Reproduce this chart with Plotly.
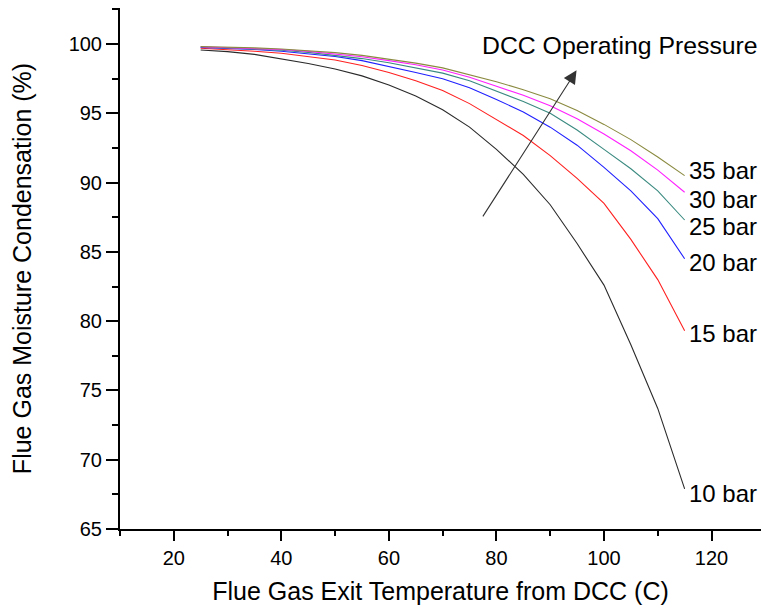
import plotly.graph_objects as go

temps = [25, 30, 35, 40, 45, 50, 55, 60, 65, 70, 75, 80, 85, 90, 95, 100, 105, 110, 115]

cond_10bar = [99.57, 99.45, 99.25, 98.95, 98.6, 98.2, 97.7, 97.05, 96.25, 95.25, 94.0, 92.4, 90.6, 88.4, 85.6, 82.6, 78.3, 73.7, 67.9]
cond_15bar = [99.7, 99.6, 99.48, 99.33, 99.1, 98.85, 98.45, 97.95, 97.35, 96.65, 95.7, 94.55, 93.4, 91.95, 90.3, 88.5, 85.9, 83.0, 79.3]
cond_20bar = [99.75, 99.68, 99.6, 99.48, 99.3, 99.1, 98.8, 98.4, 97.95, 97.5, 96.85, 96.0, 95.1, 94.0, 92.7, 91.1, 89.4, 87.4, 84.5]
cond_25bar = [99.78, 99.72, 99.65, 99.55, 99.4, 99.2, 98.95, 98.65, 98.3, 97.9, 97.35, 96.6, 95.85, 95.0, 93.8, 92.4, 91.0, 89.4, 87.3]
cond_30bar = [99.8, 99.75, 99.68, 99.6, 99.47, 99.3, 99.08, 98.8, 98.5, 98.12, 97.6, 96.95, 96.3, 95.55, 94.6, 93.5, 92.3, 90.9, 89.3]
cond_35bar = [99.82, 99.78, 99.72, 99.64, 99.52, 99.38, 99.18, 98.92, 98.62, 98.28, 97.8, 97.28, 96.7, 96.05, 95.2, 94.2, 93.1, 91.85, 90.5]

series_names = ["10 bar", "15 bar", "20 bar", "25 bar", "30 bar", "35 bar"]
series_values = [cond_10bar, cond_15bar, cond_20bar, cond_25bar, cond_30bar, cond_35bar]
series_colors = ["#2a2a2a", "#ff2020", "#2020ff", "#3a8a80", "#ff20ff", "#8a8a40"]
label_yshift = [-5, -3, -4, -6, -7, 5]

FONT = "Liberation Sans, Arial, sans-serif"

fig = go.Figure()
for name, vals, col in zip(series_names, series_values, series_colors):
    fig.add_trace(go.Scatter(x=temps, y=vals, mode="lines", name=name,
                             line=dict(color=col, width=1.1), showlegend=False))

annotations = []
for name, vals, ys in zip(series_names, series_values, label_yshift):
    annotations.append(dict(x=temps[-1], y=vals[-1], xref="x", yref="y", text=name,
                            showarrow=False, xanchor="left", yanchor="middle",
                            xshift=2, yshift=ys,
                            font=dict(family=FONT, size=24, color="black")))

annotations.append(dict(x=77.0, y=99.93, xref="x", yref="y", text="DCC Operating Pressure",
                        showarrow=False, xanchor="left", yanchor="middle",
                        font=dict(family=FONT, size=24.8, color="black")))
annotations.append(dict(x=94.9, y=98.1, ax=77.3, ay=87.45, xref="x", yref="y",
                        axref="x", ayref="y", text="", showarrow=True,
                        arrowhead=2, arrowsize=2.4, arrowwidth=1.1, arrowcolor="#333333"))

fig.update_layout(
    width=761, height=610,
    margin=dict(l=120, r=0, t=8, b=81),
    paper_bgcolor="white", plot_bgcolor="white",
    font=dict(family=FONT, size=20, color="black"),
    annotations=annotations,
)

fig.update_xaxes(
    range=[10, 129.2], tick0=0, dtick=20,
    showline=True, linewidth=2, linecolor="black", mirror=False,
    ticks="outside", ticklen=10, tickwidth=2, tickcolor="black",
    minor=dict(ticks="outside", ticklen=5, tickwidth=2, tickcolor="black", dtick=10, tick0=0),
    showgrid=False, zeroline=False,
    tickfont=dict(family=FONT, size=20, color="black"),
    title=dict(text="Flue Gas Exit Temperature from DCC (C)",
               font=dict(family=FONT, size=25, color="black"), standoff=14),
)
fig.update_yaxes(
    range=[65, 102.6], tick0=65, dtick=5,
    showline=True, linewidth=2, linecolor="black", mirror=False,
    ticks="outside", ticklen=12, tickwidth=2, tickcolor="black",
    minor=dict(ticks="outside", ticklen=6, tickwidth=2, tickcolor="black", dtick=2.5, tick0=65),
    showgrid=False, zeroline=False,
    tickfont=dict(family=FONT, size=20, color="black"),
    title=dict(text="Flue Gas Moisture Condensation (%)",
               font=dict(family=FONT, size=25, color="black"), standoff=30),
)

fig.write_html("out.html")
